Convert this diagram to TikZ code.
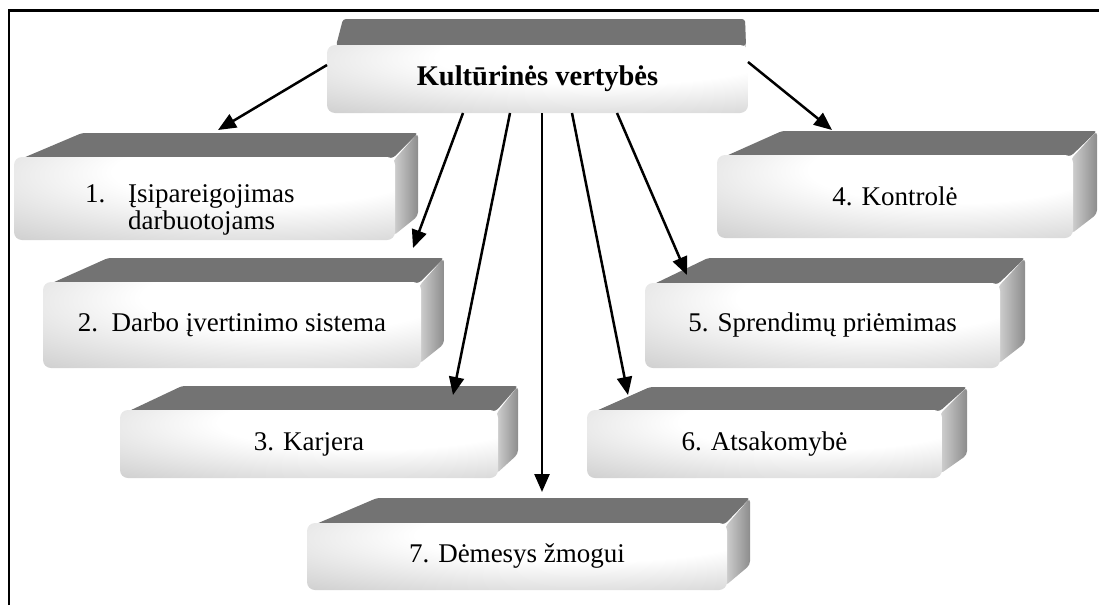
\documentclass[tikz,border=0pt]{standalone}
\usepackage{fontspec}
\setmainfont{Liberation Serif}
\usetikzlibrary{arrows.meta}
\pgfdeclareradialshading{frontshade}{\pgfpoint{10bp}{20bp}}{color(0bp)=(white); color(20bp)=(white); color(62bp)=(black!29); color(100bp)=(black!40)}
\tikzset{
  frontface/.style={rounded corners=8pt, shade, shading=frontshade, inner sep=0pt, outer sep=0pt, align=center, font=\fontsize{27}{22}\selectfont},
  topface/.style={fill=black!55, rounded corners=3pt},
  sideface/.style={left color=black!18, right color=black!45, rounded corners=4pt},
  boxtext/.style={inner sep=0pt, font=\fontsize{27}{22}\selectfont},
  arr/.style={-{Triangle[length=18pt,width=15pt]}, line width=2.5pt}
}
% name, x1, y1, x2, y2, left depth, right depth, depth, text
\newcommand{\slab}[9]{%
  \shade[sideface] (#4-2,#3+4) -- (#4+#7,#3-#8) -- (#4+#7,#5-#8) -- (#4-2,#5-4) -- cycle;
  \fill[topface] (#2+9,#3+1) -- (#2+#6,#3-#8) -- (#4+#7,#3-#8) -- (#4-2,#3+1) -- cycle;
  \node[frontface, minimum width={(#4-#2)*1pt}, minimum height={(#5-#3)*1pt}] (#1) at ({(#2+#4)/2},{(#3+#5)/2}) {#9};
}

\begin{document}
\begin{tikzpicture}[x=1pt,y=-1pt]
    \useasboundingbox (0,0) rectangle (1099,605);
    \draw[line width=2.6pt] (9,605) -- (9,10.5) -- (1099,10.5);

    \slab{kv}{327}{45}{748}{113}{16}{-3}{26}{\fontsize{28.5}{30}\selectfont\bfseries Kultūrinės vertybės}

    \slab{b1}{14}{157}{395}{240}{68}{23}{24}{}
    \node[boxtext, anchor=base west] (n1) at (85,202) {1.};
    \node[boxtext, anchor=base west] (w1) at (128,202) {Įsipareigojimas};
    \node[boxtext, anchor=base west] (w2) at (128,229) {darbuotojams};

    \slab{b2}{43}{282}{421}{368}{65}{23}{24}{2.\ \ Darbo įvertinimo sistema}
    \slab{b3}{120}{410}{498}{478}{62}{20}{24}{3. Karjera}
    \slab{b4}{717}{155}{1073}{238}{65}{24}{24}{4. Kontrolė}
    \slab{b5}{645}{283}{1000}{368}{63}{25}{25}{5. Sprendimų priėmimas}
    \slab{b6}{587}{410}{942}{478}{63}{25}{23}{6. Atsakomybė}
    \slab{b7}{307}{523}{727}{590}{70}{23}{25}{7. Dėmesys žmogui}

    \coordinate (e1) at (218,130);
    \coordinate (e2) at (413,248);
    \coordinate (e3) at (453,395);
    \coordinate (e4) at (832,130);
    \coordinate (e5) at (687,275);
    \coordinate (e6) at (628,395);
    \coordinate (e7) at (542,492);

    \draw[arr] ([yshift=14pt]kv.west) -- (e1);
    \draw[arr] ([xshift=-74.5pt]kv.south) -- (e2);
    \draw[arr] ([xshift=-27.5pt]kv.south) -- (e3);
    \draw[arr] ([yshift=17pt]kv.east) -- (e4);
    \draw[arr] ([xshift=79.5pt]kv.south) -- (e5);
    \draw[arr] ([xshift=34.5pt]kv.south) -- (e6);
    \draw[arr] ([xshift=4.5pt]kv.south) -- (e7);
\end{tikzpicture}
\end{document}
